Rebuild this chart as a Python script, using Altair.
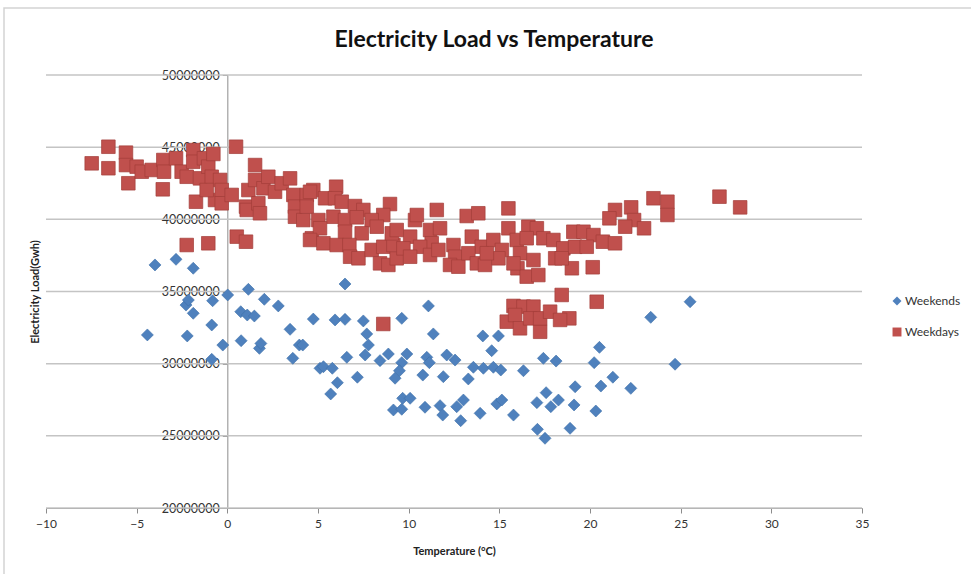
import altair as alt
import pandas as pd

# Daily electricity load against mean temperature, split into weekdays and weekends
weekday_temp = [
    -7.48, -6.56, -6.56, -5.59, -5.59, -5.46, -5.00, -4.72, -4.17, -3.56,
    -3.53, -3.49, -2.83, -2.52, -2.24, -1.88, -1.88, -1.73, -1.51, -1.29,
    -1.05, -1.05, -0.86, -0.77, -0.68, -0.40, -0.31, -0.31, -1.14, -2.24,
    0.24, 0.48, 0.52, 1.03, 1.03, 1.07, 1.16, 1.53, 1.53, 1.71,
    1.80, 1.99, 2.26, 2.63, 3.00, 3.46, 3.64, 3.73, 3.73, 4.19,
    4.38, 4.38, 4.66, 4.74, 5.02, 4.56, 6.00, 5.39, 5.94, 6.31,
    7.04, 7.50, 8.97, 8.60, 5.85, 6.49, 7.14, 7.96, 8.24, 5.11,
    6.49, 7.41, 4.56, 5.30, 6.03, 6.73, 6.77, 7.23, 7.96, 8.60,
    8.42, 8.88, 9.34, 9.16, 10.08, 10.35, 10.45, 11.18, 11.73, 11.55,
    11.27, 10.63, 9.71, 10.08, 11.18, 11.64, 12.47, 12.56, 12.28, 12.74,
    13.20, 13.84, 13.48, 14.03, 13.29, 13.76, 14.21, 14.67, 15.50, 15.50,
    15.14, 14.95, 15.96, 16.60, 17.07, 16.51, 17.43, 16.14, 16.00, 16.51,
    17.15, 16.88, 18.08, 17.98, 18.53, 19.08, 19.18, 19.00, 15.78, 14.31,
    9.07, 9.34, 23.50, 24.27, 24.27, 22.27, 21.38, 21.07, 22.43, 21.94,
    22.98, 27.14, 28.28, 19.64, 20.19, 20.71, 21.38, 19.82, 18.44, 20.15,
    18.44, 20.37, 18.86, 8.60, 15.78, 16.33, 16.88, 15.41, 15.87, 16.14,
    16.70, 17.25, 17.25, 17.80, 18.35,
]
weekday_load = [
    43880000, 45030000, 43540000, 44620000, 43760000, 42500000, 43650000, 43300000, 43420000, 42080000,
    44110000, 43300000, 44230000, 43300000, 42950000, 44800000, 43990000, 41220000, 42840000, 44230000,
    43650000, 38340000, 42950000, 44530000, 41340000, 42730000, 42030000, 41110000, 42030000, 38220000,
    41690000, 45030000, 38800000, 38450000, 40880000, 40650000, 42030000, 43760000, 42730000, 41110000,
    40420000, 42150000, 42950000, 41910000, 42500000, 42840000, 41690000, 40880000, 40180000, 39950000,
    41690000, 40880000, 38690000, 42030000, 39950000, 41910000, 42260000, 41460000, 41460000, 41220000,
    40920000, 40650000, 41060000, 40300000, 40180000, 39950000, 40140000, 39950000, 39490000, 39380000,
    39140000, 39030000, 38570000, 38340000, 38220000, 38220000, 37410000, 37300000, 37880000, 38100000,
    36950000, 36840000, 37300000, 38220000, 38800000, 39950000, 40300000, 39260000, 39380000, 40650000,
    38340000, 38100000, 37990000, 37410000, 37530000, 37880000, 38220000, 37410000, 36840000, 36720000,
    40230000, 40420000, 38800000, 38100000, 37650000, 36950000, 36840000, 38570000, 40760000, 39380000,
    37880000, 37300000, 38570000, 39490000, 39380000, 38690000, 38690000, 37650000, 36610000, 36030000,
    36140000, 37180000, 37300000, 38570000, 37990000, 39140000, 38100000, 36610000, 36950000, 37650000,
    39030000, 39260000, 41460000, 41220000, 40300000, 40830000, 40650000, 40070000, 39950000, 39490000,
    39380000, 41570000, 40830000, 39140000, 38910000, 38450000, 38340000, 38100000, 37300000, 36680000,
    34760000, 34290000, 33140000, 32750000, 34000000, 33950000, 33950000, 32910000, 33370000, 32450000,
    33140000, 32210000, 33140000, 33600000, 33030000,
]

weekend_temp = [
    -3.99, -2.83, -1.88, -4.41, -2.28, -2.15, -1.88, -2.21, -0.81, -0.86,
    -0.86, -0.25, 0.02, 0.74, 1.10, 1.16, 1.49, 0.76, 1.77, 1.85,
    2.04, 2.81, 3.46, 3.97, 3.61, 4.74, 5.11, 6.49, 11.09, 5.94,
    6.49, 7.50, 9.62, 7.69, 7.78, 7.60, 6.59, 4.16, 11.36, 14.09,
    14.95, 14.58, 8.88, 8.42, 9.90, 9.62, 11.00, 11.14, 12.10, 12.56,
    5.30, 5.79, 6.07, 5.70, 7.17, 9.49, 9.25, 10.78, 11.91, 13.29,
    13.57, 14.12, 14.67, 15.08, 16.33, 17.43, 18.13, 9.67, 10.08, 9.16,
    9.62, 10.90, 11.73, 11.88, 12.65, 13.02, 12.87, 13.94, 14.86, 15.14,
    15.78, 17.07, 17.58, 17.84, 18.26, 19.18, 19.12, 17.10, 17.52, 18.90,
    25.52, 23.35, 20.52, 20.23, 24.69, 21.26, 20.60, 22.25, 20.32,
]
weekend_load = [
    36840000, 37230000, 36610000, 31990000, 34060000, 34410000, 33490000, 31920000, 34360000, 32680000,
    30300000, 31290000, 34760000, 33600000, 33370000, 35150000, 33300000, 31590000, 31060000, 31400000,
    34460000, 34000000, 32380000, 31290000, 30370000, 33090000, 29680000, 35520000, 34000000, 33030000,
    33070000, 32960000, 33140000, 32060000, 31290000, 30600000, 30440000, 31290000, 32060000, 31920000,
    31920000, 30900000, 30670000, 30210000, 30670000, 30070000, 30440000, 30070000, 30600000, 30250000,
    29790000, 29680000, 28680000, 27900000, 29060000, 29510000, 28990000, 29210000, 29100000, 28940000,
    29750000, 29680000, 29750000, 29560000, 29510000, 30370000, 30180000, 27600000, 27600000, 26790000,
    26840000, 26980000, 27090000, 26440000, 27020000, 27480000, 26050000, 26560000, 27210000, 27480000,
    26440000, 27300000, 27990000, 27020000, 27480000, 28400000, 27140000, 25450000, 24830000, 25520000,
    34290000, 33210000, 31130000, 30070000, 29960000, 29060000, 28450000, 28290000, 26720000,
]

series_names = ["Weekends", "Weekdays"]
series_colors = ["#4F81BD", "#C0504D"]
series_shapes = ["diamond", "square"]

x_ticks = [-10, -5, 0, 5, 10, 15, 20, 25, 30, 35]
y_ticks = [20000000, 25000000, 30000000, 35000000, 40000000, 45000000, 50000000]

chart_title = "Electricity Load vs Temperature"

W, H = 816, 433
Y_AXIS_SHIFT = W * 10 / 45  # the vertical axis crosses at 0 °C

FONT = "Lato"

weekends = pd.DataFrame({"temp": weekend_temp, "load": weekend_load, "series": "Weekends"})
weekdays = pd.DataFrame({"temp": weekday_temp, "load": weekday_load, "series": "Weekdays"})

x_scale = alt.Scale(domain=[-10, 35], nice=False, zero=False)
y_scale = alt.Scale(domain=[20000000, 50000000], nice=False, zero=False)

color_enc = alt.Color(
    "series:N",
    scale=alt.Scale(domain=series_names, range=series_colors),
    legend=alt.Legend(
        title=None,
        orient="none",
        legendX=845,
        legendY=220,
        labelFont=FONT,
        labelFontSize=12,
        labelColor="#333333",
        symbolSize=80,
        symbolStrokeWidth=0,
        rowPadding=19,
        labelOffset=2,
        padding=0,
    ),
)
shape_enc = alt.Shape(
    "series:N",
    scale=alt.Scale(domain=series_names, range=series_shapes),
    legend=alt.Legend(title=None),
)

x_enc = alt.X(
    "temp:Q",
    scale=x_scale,
    axis=alt.Axis(
        values=x_ticks,
        grid=False,
        domainColor="#8c8c8c",
        tickColor="#8c8c8c",
        tickSize=5,
        labelFont=FONT,
        labelFontSize=12,
        labelColor="#333333",
        labelPadding=5,
        labelFlush=False,
        labelOverlap=False,
        title="Temperature (°C)",
        titleFont=FONT,
        titleFontSize=11,
        titleFontWeight="bold",
        titleColor="#222222",
        titlePadding=16,
    ),
)
y_enc = alt.Y(
    "load:Q",
    scale=y_scale,
    axis=alt.Axis(
        values=y_ticks,
        format="d",
        grid=False,
        offset=-Y_AXIS_SHIFT,
        domainColor="#8c8c8c",
        tickColor="#8c8c8c",
        tickSize=5,
        labelFont=FONT,
        labelFontSize=12.5,
        labelColor="#333333",
        labelPadding=3,
        labelOverlap=False,
        labelFlush=False,
        title="Electricity Load(Gwh)",
        titleFont=FONT,
        titleFontSize=11,
        titleFontWeight="bold",
        titleColor="#222222",
        titleAngle=270,
        titleAlign="center",
        titleBaseline="middle",
        titleX=-Y_AXIS_SHIFT - 11,
        titleY=H / 2,
    ),
)

# light border round the whole chart area
frame = alt.Chart(pd.DataFrame({"k": [0]})).mark_rect(
    fillOpacity=0, stroke="#d3d3d3", strokeWidth=1.5
).encode(
    x=alt.value(-42), x2=alt.value(940), y=alt.value(-67), y2=alt.value(515)
)

# chart heading, centred over the chart area
heading = alt.Chart(pd.DataFrame({"title": [chart_title]})).mark_text(
    font=FONT, fontSize=23, fontWeight="bold", color="#111111",
    align="center", baseline="middle",
).encode(
    text="title:N", x=alt.value(448), y=alt.value(-35)
)

# horizontal gridlines at each major tick of the load axis
grid = alt.Chart(pd.DataFrame({"load": y_ticks})).mark_rule(
    color="#c4c4c4", strokeWidth=1.5
).encode(
    y=y_enc,
    x=alt.value(0),
    x2=alt.value(W),
)

weekend_pts = alt.Chart(weekends).mark_point(
    filled=True, opacity=1, size=144, stroke="#3c6ea8", strokeWidth=0.6
).encode(x=x_enc, y=y_enc, color=color_enc, shape=shape_enc)

weekday_pts = alt.Chart(weekdays).mark_point(
    filled=True, opacity=1, size=185, stroke="#a33d3a", strokeWidth=0.7
).encode(x=x_enc, y=y_enc, color=color_enc, shape=shape_enc)

chart = (
    alt.layer(frame, heading, grid, weekend_pts, weekday_pts)
    .properties(
        width=W,
        height=H,
        autosize=alt.AutoSizeParams(type="none"),
        padding={"left": 46, "top": 75, "right": 109, "bottom": 66},
        background="white",
    )
    .configure_view(stroke=None)
)

chart.save("out.html", embed_options={"renderer": "svg", "actions": False})
